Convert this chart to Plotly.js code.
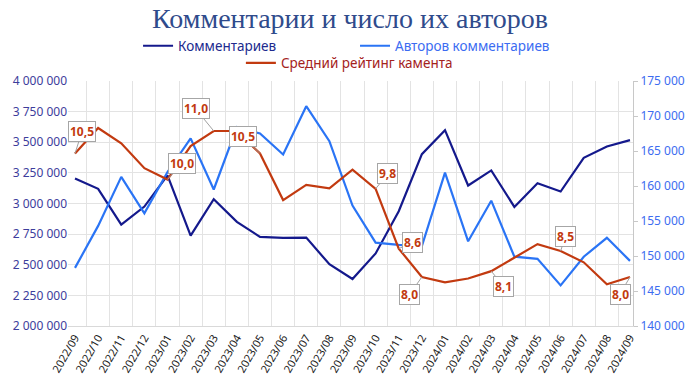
<!DOCTYPE html>
<html>
<head>
<meta charset="utf-8">
<script src="https://cdn.plot.ly/plotly-3.0.1.min.js"></script>
<style>
  html, body { margin: 0; padding: 0; background: #ffffff; }
  #chart { width: 700px; height: 378px; }
</style>
</head>
<body>
<div id="chart"></div>
<script>
// ---- data ----
const months = ['2022/09','2022/10','2022/11','2022/12','2023/01','2023/02','2023/03','2023/04','2023/05','2023/06','2023/07','2023/08','2023/09','2023/10','2023/11','2023/12','2024/01','2024/02','2024/03','2024/04','2024/05','2024/06','2024/07','2024/08','2024/09'];
const comments = [3204000,3120000,2828000,2975000,3230000,2738000,3035000,2850000,2728000,2720000,2722000,2504000,2384000,2592000,2937000,3403000,3599000,3147000,3270000,2972000,3166000,3098000,3373000,3466000,3517000];
const authors = [148300,154300,161300,156100,162000,166800,159500,168400,167500,164500,171400,166400,157200,151900,151600,151400,161900,152100,157900,149900,149600,145800,149900,152600,149300];
const rating = [10.52,11.04,10.73,10.22,9.99,10.67,10.98,10.98,10.52,9.57,9.88,9.81,10.19,9.80,8.58,8.00,7.89,7.97,8.12,8.39,8.67,8.53,8.30,7.85,8.00];
const labelledMonths = ['2022/09','2023/01','2023/03','2023/05','2023/10','2023/11','2023/12','2024/03','2024/06','2024/09'];
const seriesNames = ['Комментариев','Авторов комментариев','Средний рейтинг камента'];
const chartTitle = 'Комментарии и число их авторов';

// ---- styling ----
const C_DARK = '#14198c';
const C_BLUE = '#2a74f5';
const C_RED = '#c23a10';
const T_DARK = '#202a8e';
const T_BLUE = '#3b6cf2';
const T_RED = '#a4221c';
const calloutOffsets = {
  '2022/09': [7, -22], '2023/01': [14, -16], '2023/03': [-18, -22], '2023/05': [-17, -17],
  '2023/10': [12, -15], '2023/11': [14, -6], '2023/12': [-12, 17], '2024/03': [12, 15],
  '2024/06': [5, -15], '2024/09': [-10, 17]
};
const FONT = 'Noto Sans, Open Sans, sans-serif';

function fmt(v) { return v.toFixed(1).replace('.', ','); }

const traces = [
  { x: months, y: comments, name: '<span style="color:' + T_DARK + '">' + seriesNames[0] + '</span>',
    type: 'scatter', mode: 'lines', yaxis: 'y', legend: 'legend', line: { color: C_DARK, width: 2.2 } },
  { x: months, y: authors, name: '<span style="color:' + T_BLUE + '">' + seriesNames[1] + '</span>',
    type: 'scatter', mode: 'lines', yaxis: 'y2', legend: 'legend3', line: { color: C_BLUE, width: 2.2 } },
  { x: months, y: rating, name: '<span style="color:' + T_RED + '">' + seriesNames[2] + '</span>',
    type: 'scatter', mode: 'lines', yaxis: 'y3', legend: 'legend2', line: { color: C_RED, width: 2.2 } }
];

const annotations = labelledMonths.map(m => {
  const i = months.indexOf(m);
  const off = calloutOffsets[m];
  return {
    x: m, y: rating[i], xref: 'x', yref: 'y3',
    text: '<b>' + fmt(rating[i]) + '</b>',
    showarrow: true, arrowhead: 0, arrowwidth: 1, arrowcolor: '#a0a0a0', standoff: 0,
    ax: off[0], ay: off[1],
    bgcolor: '#ffffff', bordercolor: '#a6a6a6', borderwidth: 1, borderpad: 1,
    font: { family: FONT, size: 12, color: C_RED }
  };
});

const legendBase = {
  orientation: 'h', xanchor: 'left', yanchor: 'middle',
  bgcolor: 'rgba(0,0,0,0)', font: { family: FONT, size: 13.5 }
};

const layout = {
  width: 700, height: 378,
  margin: { l: 68, r: 67, t: 81, b: 52 },
  paper_bgcolor: '#ffffff', plot_bgcolor: '#ffffff',
  separators: ', ',
  font: { family: FONT, size: 12, color: '#222' },
  title: {
    text: chartTitle, x: 0.5, xref: 'container', xanchor: 'center',
    y: 0.952, yref: 'container', yanchor: 'middle',
    font: { family: 'Liberation Serif, serif', size: 28, color: '#2f4b8c' }
  },
  showlegend: true,
  legend: Object.assign({}, legendBase, { x: 0.124, y: 1.143 }),
  legend3: Object.assign({}, legendBase, { x: 0.508, y: 1.143 }),
  legend2: Object.assign({}, legendBase, { x: 0.306, y: 1.073 }),
  xaxis: {
    type: 'category', tickson: 'boundaries', showgrid: true, gridcolor: '#e3e3e3', gridwidth: 1,
    showline: true, linecolor: '#d9d9d9', ticks: '', tickangle: -60,
    tickfont: { family: FONT, size: 11, color: '#1a1a1a' }, zeroline: false
  },
  yaxis: {
    range: [2000000, 4000000], dtick: 250000, tickformat: ',d',
    showgrid: true, gridcolor: '#e3e3e3', showline: false, zeroline: false,
    tickfont: { family: FONT, size: 12, color: '#3d3d9c' }, ticks: ''
  },
  yaxis2: {
    range: [140000, 175000], dtick: 5000, tickformat: ',d', overlaying: 'y', side: 'right',
    showgrid: false, showline: true, linecolor: '#c8c8c8', ticks: 'outside', ticklen: 4, tickcolor: '#c8c8c8',
    zeroline: false, tickfont: { family: FONT, size: 12, color: '#3d6cf0' }
  },
  yaxis3: {
    range: [7, 12], overlaying: 'y', visible: false, showgrid: false, zeroline: false
  },
  annotations: annotations
};

Plotly.newPlot('chart', traces, layout, { displayModeBar: false, staticPlot: true });
</script>
</body>
</html>
